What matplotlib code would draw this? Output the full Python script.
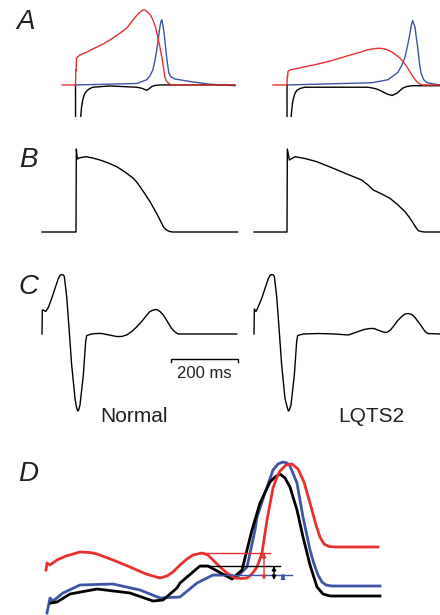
import numpy as np
import matplotlib
matplotlib.use("Agg")
import matplotlib.pyplot as plt

plt.rcParams['font.family'] = ['Liberation Sans', 'DejaVu Sans']

RED = '#e8302f'
BLUE = '#3d55a6'
INK = '#231f20'

# --- A: membrane currents (normalised), time in ms from upstroke ---
a_norm_red_t = [-40, 0, 1, 2, 3, 13, 30, 52, 80, 103, 130, 154, 170, 184, 193, 202, 210, 217, 225,
                232, 240, 247, 253, 259, 264, 268, 272, 277, 284, 292, 478]
a_norm_red_i = [0, 0, 0.20, 0.19, 0.36, 0.40, 0.43, 0.48, 0.54, 0.60, 0.68, 0.76, 0.85, 0.93, 0.97,
                1.00, 0.995, 0.97, 0.93, 0.87, 0.77, 0.64, 0.51, 0.37, 0.23, 0.11, 0.06, 0.03, 0.01, 0, 0]
a_norm_blue_t = [0, 184, 214, 223, 232, 238, 244, 248, 253, 256, 259, 262, 265, 267, 271, 276, 280,
                 286, 298, 352, 403, 478]
a_norm_blue_i = [0, 0.02, 0.07, 0.12, 0.20, 0.32, 0.47, 0.60, 0.77, 0.84, 0.87, 0.80, 0.72, 0.64, 0.47,
                 0.28, 0.16, 0.11, 0.08, 0.04, 0.01, -0.01]
a_norm_blk_t = [0, 0.5, 8, 13, 15.6, 18, 21.6, 27, 33.6, 42, 52, 103, 184, 200, 208, 214, 221, 229, 240, 253, 478]
a_norm_blk_i = [0, -1.5, -1.5, -0.8, -0.43, -0.30, -0.20, -0.12, -0.08, -0.05, -0.03, -0.013, -0.03,
                -0.045, -0.06, -0.07, -0.05, -0.02, -0.005, 0, 0]

a_lq_red_t = [-42, 0, 1, 2, 3, 9, 40, 84, 130, 183, 215, 243, 262, 279, 297, 315, 327, 339, 350, 360,
              368, 375, 383, 390, 398, 408, 459]
a_lq_red_i = [0, 0, 0.12, 0.11, 0.18, 0.20, 0.23, 0.27, 0.32, 0.39, 0.43, 0.47, 0.485, 0.49, 0.475,
              0.44, 0.40, 0.36, 0.30, 0.24, 0.18, 0.13, 0.08, 0.04, 0.015, 0, 0]
a_lq_blue_t = [0, 255, 303, 333, 344, 354, 362, 369, 373, 377, 384, 388, 393, 397, 402, 410, 420, 459]
a_lq_blue_i = [0, 0.03, 0.07, 0.17, 0.26, 0.37, 0.53, 0.69, 0.80, 0.86, 0.77, 0.63, 0.47, 0.30, 0.16,
               0.07, 0.03, 0]
a_lq_blk_t = [0, 0.5, 6, 10, 12, 15, 18, 24, 30, 40, 54, 243, 262, 273, 287, 300, 315, 330, 340, 348,
              360, 375, 459]
a_lq_blk_i = [0, -1.5, -1.5, -0.8, -0.44, -0.30, -0.20, -0.11, -0.07, -0.045, -0.03, -0.03, -0.045,
              -0.06, -0.09, -0.12, -0.14, -0.11, -0.07, -0.04, -0.02, -0.01, -0.01]

# --- B: action potentials (mV) ---
b_norm_t = [-102, 0, 1, 4, 8, 30, 50, 72, 97, 122, 147, 172, 182, 192, 207, 222, 235, 247, 255, 262,
            269, 277, 284, 292, 485]
b_norm_v = [-85, -85, 39.5, 24.5, 26, 28, 26, 23, 18.5, 13, 5, -4.5, -10, -17, -28, -39.5, -51, -62,
            -70, -77, -81, -83.5, -84.7, -85, -85]
b_lq_t = [-99, 0, 1, 7, 24, 56, 89, 114, 139, 182, 224, 242, 259, 284, 309, 332, 354, 367, 379, 387,
          394, 404, 414, 459]
b_lq_v = [-85, -85, 39.5, 23, 28, 25, 20.5, 15.5, 10.5, 1.5, -7, -14, -22, -28, -34.5, -44, -54.5, -63,
          -72, -78.5, -83, -84.5, -85, -85]

# --- C: pseudo-ECG (mV) ---
c_norm_t = [0, 1, 4, 11, 19, 29, 39, 49, 54, 59, 64, 67, 74, 79, 89, 99, 103, 107, 110, 114, 124, 131,
            134, 149, 164, 179, 194, 209, 224, 239, 254, 269, 284, 299, 312, 324, 334, 344, 354, 364,
            377, 389, 399, 409, 584]
c_norm_e = [0, 0.48, 0.48, 0.45, 0.53, 0.71, 0.91, 1.11, 1.17, 1.19, 1.18, 1.15, 0.75, 0.31, -0.62,
            -1.29, -1.45, -1.54, -1.52, -1.42, -0.82, -0.15, -0.03, 0, 0.01, 0.01, -0.01, -0.03, -0.05,
            -0.05, -0.02, 0.05, 0.14, 0.25, 0.36, 0.45, 0.48, 0.49, 0.45, 0.38, 0.24, 0.11, 0.04, 0, 0]
c_lq_t = [0, 1, 6, 13, 23, 33, 43, 48, 53, 58, 61, 68, 73, 83, 93, 99, 103, 106, 111, 121, 128, 131,
          148, 193, 243, 283, 313, 330, 348, 360, 375, 388, 398, 408, 418, 430, 443, 453, 463, 473,
          483, 493, 503, 512, 521, 558]
c_lq_e = [0, 0.50, 0.45, 0.55, 0.71, 0.91, 1.11, 1.17, 1.19, 1.18, 1.15, 0.75, 0.31, -0.62, -1.29,
          -1.45, -1.54, -1.52, -1.42, -0.82, -0.15, -0.03, 0, 0.01, 0, -0.02, 0.05, 0.09, 0.11, 0.11,
          0.07, 0.04, 0.03, 0.07, 0.15, 0.26, 0.35, 0.40, 0.41, 0.39, 0.33, 0.24, 0.15, 0.06, 0.01, 0]

# --- D: T-wave close-up (a.u.) ---
d_red_t = [0, 1, 4, 11, 20, 34, 44, 51, 67, 84, 100, 114, 121, 127, 134, 141, 147, 156, 162, 167, 174,
           181, 189, 195, 201, 206, 211, 216, 221, 227, 231, 234, 240, 246, 252, 258, 264, 270, 274,
           278, 283, 290, 332]
d_red_v = [0.30, 0.37, 0.35, 0.40, 0.44, 0.48, 0.475, 0.46, 0.40, 0.33, 0.26, 0.22, 0.24, 0.28, 0.35,
           0.41, 0.45, 0.47, 0.45, 0.40, 0.33, 0.27, 0.22, 0.215, 0.22, 0.26, 0.33, 0.47, 0.80, 1.12,
           1.23, 1.29, 1.35, 1.36, 1.31, 1.18, 0.97, 0.75, 0.63, 0.56, 0.535, 0.53, 0.53]
d_blue_t = [1, 4, 7, 17, 34, 67, 94, 114, 134, 151, 167, 184, 191, 201, 209, 211, 219, 227, 232, 237,
            241, 244, 251, 257, 264, 268, 272, 276, 280, 286, 334]
d_blue_v = [-0.13, 0.02, -0.01, 0.07, 0.15, 0.16, 0.10, 0.02, 0.03, 0.17, 0.25, 0.25, 0.23, 0.33, 0.70,
            0.83, 1.07, 1.30, 1.36, 1.38, 1.37, 1.34, 1.17, 0.83, 0.50, 0.36, 0.25, 0.18, 0.15, 0.14, 0.14]
d_blk_t = [5, 11, 24, 51, 84, 107, 117, 131, 134, 154, 162, 184, 186, 196, 206, 214, 224, 229, 234,
           239, 244, 251, 257, 264, 271, 277, 284, 334]
d_blk_v = [-0.03, -0.02, 0.06, 0.11, 0.07, -0.01, 0.0, 0.12, 0.17, 0.34, 0.34, 0.22, 0.21, 0.30, 0.70,
           0.97, 1.18, 1.23, 1.26, 1.22, 1.13, 0.90, 0.63, 0.35, 0.13, 0.06, 0.04, 0.04]
# level lines (start, end, level) and arrows (time, top)
d_levels = {'red': (156, 224, 0.47), 'black': (154, 234, 0.34), 'blue': (167, 246, 0.255)}
d_arrows = {'red': (218, 0.47), 'black': (228, 0.34), 'blue': (237, 0.255)}
d_arrow_base = 0.20

W, H = 440, 615
fig = plt.figure(figsize=(W / 100, H / 100), dpi=100)


def panel(x0, x1, y0, y1, xlim, ylim):
    ax = fig.add_axes([x0 / W, 1 - y1 / H, (x1 - x0) / W, (y1 - y0) / H])
    ax.set_xlim(*xlim)
    ax.set_ylim(*ylim)
    ax.axis('off')
    return ax


lw = 1.0
# A
ylA = (-0.427, 1.133)
ax = panel(40, 240, 0, 117, (-106.5, 493.5), ylA)
ax.plot(a_norm_blue_t, a_norm_blue_i, color=BLUE, lw=lw)
ax.plot(a_norm_blk_t, a_norm_blk_i, color='black', lw=lw)
ax.plot(a_norm_red_t, a_norm_red_i, color=RED, lw=lw)
ax = panel(250, 440, 0, 117, (-111, 459), ylA)
ax.plot(a_lq_blue_t, a_lq_blue_i, color=BLUE, lw=lw)
ax.plot(a_lq_blk_t, a_lq_blk_i, color='black', lw=lw)
ax.plot(a_lq_red_t, a_lq_red_i, color=RED, lw=lw)

# B
ylB = (-97, 53)
ax = panel(40, 240, 140, 240, (-108, 492), ylB)
ax.plot(b_norm_t, b_norm_v, color='black', lw=lw)
ax = panel(250, 440, 140, 240, (-111, 459), ylB)
ax.plot(b_lq_t, b_lq_v, color='black', lw=lw)

# C
ylC = (-1.62, 1.38)
ax = panel(40, 240, 265, 415, (-6, 594), ylC)
ax.plot(c_norm_t, c_norm_e, color='black', lw=lw)
ax.plot([388, 388, 588, 588], [-0.56, -0.5, -0.5, -0.56], color='black', lw=1.0)
ax.text(488, -0.8, '200 ms', ha='center', va='center', fontsize=12, color=INK)
ax = panel(250, 440, 265, 415, (-12, 558), ylC)
ax.plot(c_lq_t, c_lq_e, color='black', lw=lw)

fig.text(134 / W, 1 - 417 / H, 'Normal', ha='center', va='center', fontsize=15, color=INK)
fig.text(371 / W, 1 - 417 / H, 'LQTS2', ha='center', va='center', fontsize=15, color=INK)

# D
ax = panel(40, 390, 450, 615, (-6, 344), (-0.15, 1.5))
dw = 2.0
ax.plot(d_blue_t, d_blue_v, color=BLUE, lw=dw)
ax.plot(d_blk_t, d_blk_v, color='black', lw=dw)
ax.plot(d_red_t, d_red_v, color=RED, lw=dw)
cols = {'red': RED, 'black': 'black', 'blue': BLUE}
for k, (t0, t1, lev) in d_levels.items():
    ax.plot([t0, t1], [lev, lev], color=cols[k], lw=1.0)
for k, (t, top) in d_arrows.items():
    ax.annotate('', xy=(t, d_arrow_base), xytext=(t, top),
                arrowprops=dict(arrowstyle='<|-|>', color=cols[k], lw=1.0,
                                mutation_scale=6, shrinkA=0, shrinkB=0), zorder=5)

for lab, x, y in [('A', 26, 22), ('B', 28, 160), ('C', 28, 287), ('D', 28, 474)]:
    fig.text(x / W, 1 - y / H, lab, ha='center', va='center', fontsize=20,
             style='italic', color=INK)

fig.savefig('out.png', dpi=100)
